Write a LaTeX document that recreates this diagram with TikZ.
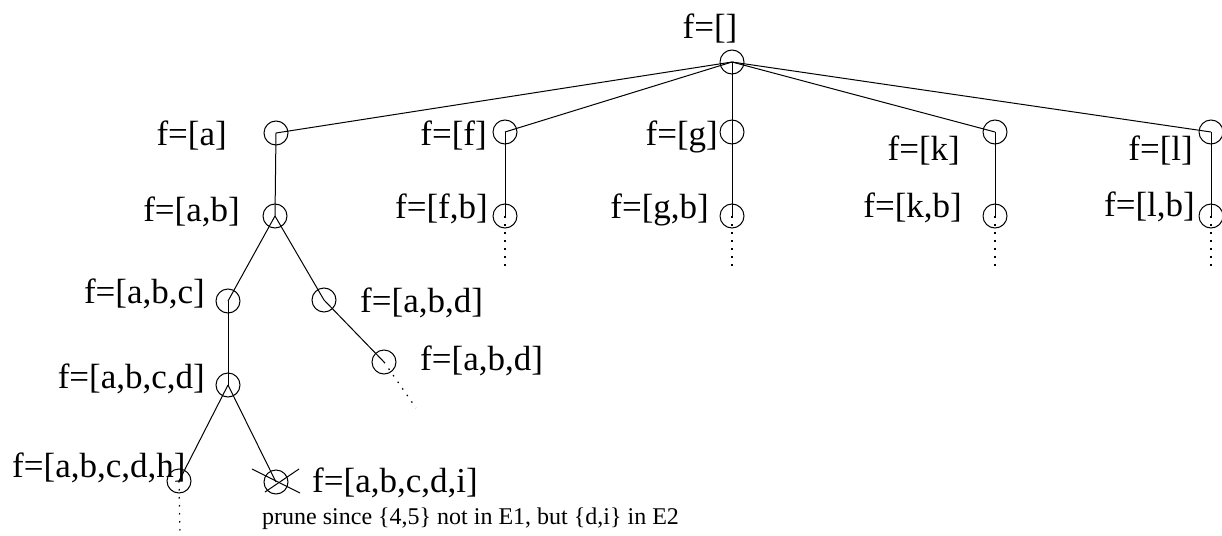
\documentclass[tikz,border=0pt]{standalone}
\usepackage{fontspec}
\setmainfont{Liberation Serif}
\begin{document}
\begin{tikzpicture}[x=1pt,y=-1pt,
  state/.style={circle,draw,line width=1pt,minimum size=24pt,inner sep=0pt},
  lbl/.style={inner sep=0pt,font=\fontsize{35}{40}\selectfont},
  note/.style={inner sep=0pt,font=\fontsize{24}{28}\selectfont},
  edge/.style={line width=1pt},
  more/.style={line width=1.2pt,dash pattern=on 1.5pt off 6.5pt}]
\useasboundingbox (0,0) rectangle (1222,535);

% search tree states
\node[state] (r)    at (732,62)  {};
\node[state] (a)    at (276,133) {};
\node[state] (f)    at (505,132) {};
\node[state] (g)    at (732,132) {};
\node[state] (k)    at (995,132) {};
\node[state] (l)    at (1211,132) {};
\node[state] (ab)   at (275,216) {};
\node[state] (fb)   at (505,216) {};
\node[state] (gb)   at (732,216) {};
\node[state] (kb)   at (995,216) {};
\node[state] (lb)   at (1211,216) {};
\node[state] (abc)  at (228,301) {};
\node[state] (abd)  at (324,300) {};
\node[state] (abd2) at (384,362) {};
\node[state] (abcd) at (228,385) {};
\node[state] (abcdh) at (179,481) {};
\node[state] (abcdi) at (276,482) {};

% labels
\node[lbl,anchor=base] (lr) at (710,38) {f=[]};
\node[lbl,anchor=base east] (la) at (227,145) {f=[a]};
\node[lbl,anchor=base east] (lf) at (487,145) {f=[f]};
\node[lbl,anchor=base east] (lg) at (718,145) {f=[g]};
\node[lbl,anchor=base east] (lk) at (960,160) {f=[k]};
\node[lbl,anchor=base east] (ll) at (1193,160) {f=[l]};
\node[lbl,anchor=base east] (lab) at (240,221) {f=[a,b]};
\node[lbl,anchor=base east] (lfb) at (488,218) {f=[f,b]};
\node[lbl,anchor=base east] (lgb) at (709,218) {f=[g,b]};
\node[lbl,anchor=base east] (lkb) at (962,217) {f=[k,b]};
\node[lbl,anchor=base east] (llb) at (1195,216) {f=[l,b]};
\node[lbl,anchor=base east] (labc) at (205,303) {f=[a,b,c]};
\node[lbl,anchor=base west] (labd) at (360,312) {f=[a,b,d]};
\node[lbl,anchor=base west] (labd2) at (420,370) {f=[a,b,d]};
\node[lbl,anchor=base east] (labcd) at (205,388) {f=[a,b,c,d]};
\node[lbl,anchor=base west] (labcdh) at (12,477) {f=[a,b,c,d,h]};
\node[lbl,anchor=base west] (labcdi) at (312,492) {f=[a,b,c,d,i]};
\node[note,anchor=base west] (prune) at (262,524) {prune since \{4,5\} not in E1, but \{d,i\} in E2};

% tree edges
\draw[edge] (r.center) -- (a.center);
\draw[edge] (r.center) -- (f.center);
\draw[edge] (r.center) -- (g.center);
\draw[edge] (r.center) -- (k.center);
\draw[edge] (r.center) -- (l.center);
\draw[edge] (a.center) -- (ab.center);
\draw[edge] (f.center) -- (fb.center);
\draw[edge] (g.center) -- (gb.center);
\draw[edge] (k.center) -- (kb.center);
\draw[edge] (l.center) -- (lb.center);
\draw[edge] (ab.center) -- (abc.center);
\draw[edge] (ab.center) -- (abd.center) -- (abd2.center);
\draw[edge] (abc.center) -- (abcd.center);
\draw[edge] (abcd.center) -- (abcdh.center);
\draw[edge] (abcd.center) -- (abcdi.center);

% pruned state
\draw[edge] ([shift={(-24,-13)}]abcdi.center) -- ([shift={(24,11)}]abcdi.center);
\draw[edge] ([shift={(-11,10)}]abcdi.center) -- ([shift={(23,-13)}]abcdi.center);

% unexplored continuations
\coordinate (efb) at (505,272);
\coordinate (egb) at (732,272);
\coordinate (ekb) at (995,272);
\coordinate (elb) at (1211,272);
\coordinate (eabd) at (416,408);
\coordinate (eh) at (180,535);
\draw[more] (fb.center) -- (efb);
\draw[more] (gb.center) -- (egb);
\draw[more] (kb.center) -- (ekb);
\draw[more] (lb.center) -- (elb);
\draw[more] (abd2.center) -- (eabd);
\draw[more] (abcdh.center) -- (eh);
\end{tikzpicture}
\end{document}
